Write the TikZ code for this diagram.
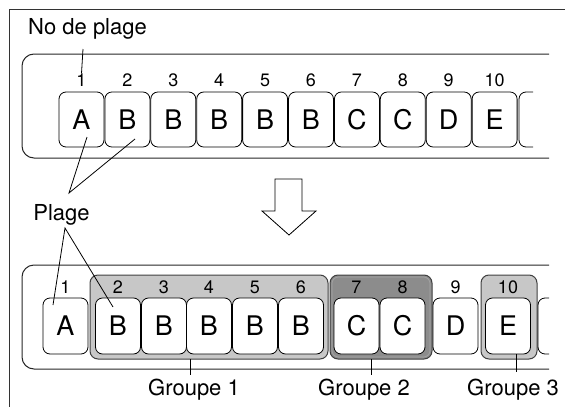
\documentclass[tikz,border=0pt]{standalone}
\usepackage{fontspec}
\setmainfont{TeX Gyre Heros}
\begin{document}
\begin{tikzpicture}[x=1pt,y=-1pt,
  cell/.style={draw=black,line width=0.8pt,fill=white,rounded corners=7pt,minimum width=45pt,minimum height=55pt,inner sep=0pt,font=\fontsize{27}{29}\selectfont},
  num/.style={inner sep=0pt,font=\fontsize{18}{20}\selectfont},
  lbl/.style={inner sep=0pt,font=\fontsize{22}{24}\selectfont},
  band/.style={draw=black!85,line width=1pt,rounded corners=12pt},
  grp/.style={draw=black!75,line width=1pt,rounded corners=8pt},
  conn/.style={draw=black,line width=0.8pt}]
\useasboundingbox (0,0) rectangle (565,407);
% frame
\draw[line width=1pt,black!80] (9,407) -- (9,9) -- (565,9);
% top band
\draw[band] (549,54) -- (22,54) -- (22,158) -- (549,158);
\node[lbl] (noplage) at (87.5,29) {No de plage};
% top cells
\foreach \i/\t in {1/A,2/B,3/B,4/B,5/B,6/B,7/C,8/C,9/D,10/E}{
  \pgfmathsetmacro{\cx}{81.5+45.9*(\i-1)}
  \node[cell] (t\i) at (\cx,119.5) {\t};
  \node[num] (tn\i) at (\cx,80) {\i};
}
\draw[line width=0.8pt,rounded corners=7pt] (533,92) -- (519,92) -- (519,147) -- (533,147);
\coordinate (ntop) at (83,49);
\draw[conn] (ntop) -- (tn1.north);
% plage connectors (top)
\coordinate (pj) at (69,193);
\coordinate (pa) at (87,137);
\coordinate (pb) at (135,139);
\draw[conn] (pa) -- (pj) -- (pb);
\node[lbl] (plage) at (61.5,215) {Plage};
% big arrow
\draw[line width=0.8pt,fill=white] (275,179) -- (302,179) -- (302,211) -- (316,211) -- (289,235) -- (262,211) -- (275,211) -- cycle;
% bottom band
\draw[band] (549,265) -- (22,265) -- (22,369) -- (549,369);
% groups
\draw[grp,fill=black!22] (90,275) rectangle (328,359);
\draw[grp,fill=black!45] (330,275) rectangle (432,359);
\draw[grp,fill=black!22] (481,275) rectangle (537,359);
\draw[white!80!black,line width=0.6pt,rounded corners=6.5pt] (92,277) rectangle (326,357);
\draw[white!65!black,line width=0.6pt,rounded corners=6.5pt] (332,277) rectangle (430,357);
\draw[white!80!black,line width=0.6pt,rounded corners=6.5pt] (483,277) rectangle (535,357);
% bottom cells
\foreach \i/\t/\cx in {1/A/65.5,2/B/118,3/B/164,4/B/209,5/B/255,6/B/301,7/C/356.5,8/C/402.5,9/D/455.5,10/E/508}{
  \node[cell,minimum height=56pt] (b\i) at (\cx,326) {\t};
  \node[num] (bn\i) at (\cx,287) {\i};
}
\draw[line width=0.8pt,rounded corners=7pt] (549,298) -- (538,298) -- (538,354) -- (549,354);
% plage connectors (bottom)
\coordinate (pk) at (65,228);
\coordinate (qa) at (53,305);
\coordinate (qb) at (113,307);
\draw[conn] (qa) -- (pk) -- (qb);
% group labels
\node[lbl] (g1) at (194,390) {Groupe 1};
\node[lbl] (g2) at (364,390) {Groupe 2};
\node[lbl] (g3) at (513,390) {Groupe 3};
\coordinate (g1t) at (190,359);
\coordinate (g2t) at (371,359);
\coordinate (g3t) at (516,354);
\draw[conn] (g1t) -- (190,375);
\draw[conn] (g2t) -- (371,375);
\draw[conn] (g3t) -- (516,372);
\end{tikzpicture}
\end{document}
